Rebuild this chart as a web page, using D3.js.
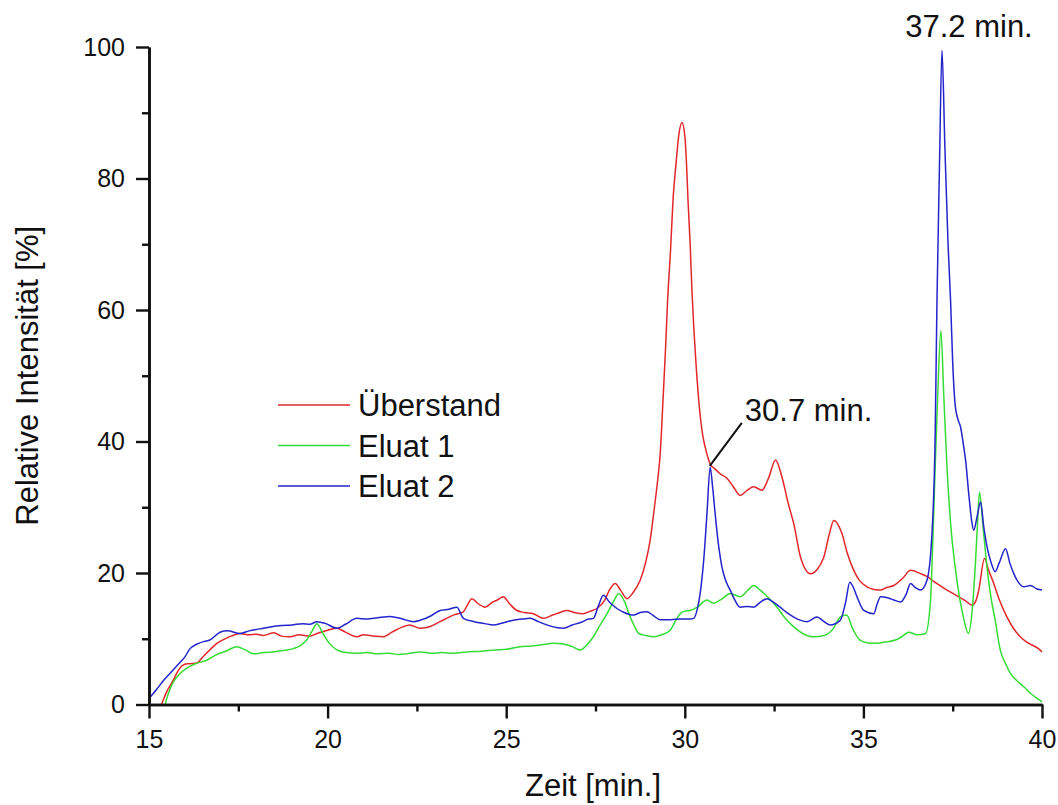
<!DOCTYPE html>
<html>
<head>
<meta charset="utf-8">
<script src="https://cdn.jsdelivr.net/npm/d3@7"></script>
<style>
  html, body { margin: 0; padding: 0; background: #fff; }
  svg { display: block; font-family: "Liberation Sans", Arial, sans-serif; }
</style>
</head>
<body>
<svg id="chart" width="1058" height="805"></svg>
<script>
// Chromatogram traces: [time (min), relative intensity (%)]
const ueberstand = [
  [15.35,0],[15.5,2.0],[15.68,3.7],[15.8,5.0],[15.95,6.0],[16.1,6.2],[16.34,6.3],[16.5,7.2],[16.7,8.3],[16.9,9.3],
  [17.1,9.9],[17.3,10.4],[17.55,10.8],[17.8,10.6],[18.0,10.7],[18.2,10.5],[18.5,10.9],[18.7,10.4],[18.95,10.3],[19.2,10.6],
  [19.5,10.4],[19.7,10.8],[20.0,11.3],[20.26,11.6],[20.5,11.0],[20.82,10.3],[21.0,10.6],[21.3,10.4],[21.55,10.3],[21.8,11.0],
  [22.1,11.8],[22.3,12.1],[22.59,11.6],[22.78,11.7],[23.15,12.6],[23.52,13.6],[23.8,14.1],[23.9,15.0],[24.04,16.1],[24.2,15.4],
  [24.41,14.8],[24.6,15.5],[24.75,15.9],[24.92,16.4],[25.1,15.3],[25.3,14.3],[25.5,14.0],[25.76,13.8],[26.04,13.1],[26.3,13.6],
  [26.5,14.0],[26.7,14.3],[26.9,14.0],[27.16,13.8],[27.35,14.2],[27.54,14.6],[27.75,15.8],[27.9,17.5],[28.05,18.4],[28.2,17.4],
  [28.38,16.1],[28.55,17.0],[28.75,18.9],[28.9,21.5],[29.03,25],[29.15,30],[29.25,34.6],[29.31,38],[29.39,46.3],[29.46,54],
  [29.52,61.6],[29.6,69],[29.67,76.7],[29.75,82],[29.83,86.5],[29.92,88.5],[30.0,86.5],[30.05,82],[30.09,76.7],[30.15,70],
  [30.2,63],[30.25,57.5],[30.3,53],[30.39,46.3],[30.45,43],[30.5,41],[30.6,38.5],[30.71,36.6],[30.85,35.8],[30.99,35.1],
  [31.18,34.4],[31.35,33.2],[31.55,31.8],[31.75,32.6],[31.93,33.1],[32.16,32.6],[32.35,34.5],[32.54,37.2],[32.72,34.6],[32.9,30.5],
  [33.05,27.5],[33.24,22.4],[33.52,19.9],[33.7,20.5],[33.89,22.4],[34.05,26],[34.17,28.0],[34.4,26.0],[34.55,23],[34.73,20.4],
  [34.9,18.8],[35.1,17.9],[35.3,17.5],[35.48,17.4],[35.65,17.8],[35.85,18.1],[36.1,19.2],[36.32,20.4],[36.6,19.9],[36.8,19.4],
  [37.0,18.6],[37.34,17.4],[37.6,16.6],[37.85,15.8],[38.04,15.1],[38.15,15.8],[38.23,17.4],[38.39,22.2],[38.5,20.5],[38.65,18.4],
  [38.8,16.0],[39.02,13.3],[39.2,11.6],[39.39,10.3],[39.6,9.4],[39.9,8.5],[40.0,8.0]
];

const eluat1 = [
  [15.45,0],[15.55,1.8],[15.68,3.4],[15.85,4.6],[16.05,5.5],[16.3,6.2],[16.6,6.7],[16.9,7.6],[17.15,8.1],[17.45,8.8],
  [17.7,8.3],[17.92,7.7],[18.2,7.9],[18.48,8.0],[18.75,8.2],[19.04,8.5],[19.25,9.0],[19.41,9.8],[19.55,11.0],[19.7,12.3],
  [19.87,10.8],[20.05,9.3],[20.26,8.3],[20.5,7.9],[20.82,7.8],[21.1,7.9],[21.4,7.7],[21.7,7.8],[22.0,7.6],[22.2,7.7],
  [22.59,8.0],[22.9,7.8],[23.2,7.9],[23.52,7.8],[23.9,8.0],[24.3,8.1],[24.7,8.3],[25.0,8.4],[25.39,8.8],[25.7,8.9],
  [26.0,9.1],[26.32,9.3],[26.6,9.2],[26.85,8.8],[27.07,8.3],[27.25,9.0],[27.44,10.3],[27.6,11.8],[27.82,13.8],[28.0,15.6],
  [28.15,16.9],[28.3,15.8],[28.45,13.6],[28.6,11.8],[28.71,10.8],[28.9,10.5],[29.13,10.3],[29.35,10.6],[29.59,11.3],[29.75,12.8],
  [29.87,13.8],[30.0,14.2],[30.15,14.3],[30.35,14.8],[30.62,15.9],[30.8,15.4],[31.05,16.1],[31.27,16.9],[31.55,16.4],[31.75,17.3],
  [31.93,18.1],[32.11,17.4],[32.35,16.2],[32.58,14.8],[32.8,13.2],[33.05,11.8],[33.3,10.8],[33.6,10.3],[33.9,10.5],[34.15,11.5],
  [34.35,13.3],[34.53,13.6],[34.7,11.5],[34.9,9.8],[35.1,9.4],[35.3,9.3],[35.6,9.5],[35.9,9.8],[36.1,10.4],[36.27,11.0],
  [36.5,10.6],[36.74,10.8],[36.88,15.9],[36.95,26],[37.01,36.1],[37.08,47],[37.17,56.9],[37.25,47],[37.34,36.1],[37.45,27],
  [37.57,20.9],[37.7,16],[37.8,13.3],[37.94,10.8],[38.04,14],[38.13,20.9],[38.2,28],[38.25,32.3],[38.35,27],[38.46,20.9],
  [38.58,16],[38.69,12.8],[38.83,8.3],[39.0,6.0],[39.12,4.7],[39.3,3.6],[39.49,2.7],[39.7,1.6],[39.9,0.8],[40.0,0.4]
];

const eluat2 = [
  [15.0,0.9],[15.2,2.2],[15.4,3.6],[15.6,4.8],[15.8,6.0],[16.0,7.2],[16.15,8.5],[16.35,9.2],[16.55,9.6],[16.7,9.8],
  [16.99,11.0],[17.2,11.2],[17.55,10.8],[17.8,11.2],[18.1,11.5],[18.4,11.8],[18.7,12.0],[19.0,12.1],[19.3,12.3],[19.5,12.2],
  [19.7,12.6],[19.95,12.3],[20.26,11.6],[20.5,12.2],[20.82,13.1],[21.1,13.0],[21.4,13.2],[21.75,13.4],[22.1,13.0],[22.4,12.6],
  [22.59,12.8],[22.9,13.5],[23.15,14.3],[23.4,14.5],[23.62,14.8],[23.8,13.1],[24.1,12.6],[24.4,12.3],[24.64,12.1],[24.9,12.4],
  [25.2,12.8],[25.45,13.0],[25.67,13.1],[25.9,12.6],[26.2,12.0],[26.4,11.7],[26.6,11.6],[26.85,12.1],[27.1,12.5],[27.3,13.0],
  [27.44,13.1],[27.58,15.0],[27.72,16.6],[27.9,15.5],[28.1,14.6],[28.3,14.0],[28.57,13.6],[28.75,14.0],[28.94,14.1],[29.1,13.6],
  [29.31,12.9],[29.6,12.9],[29.9,13.0],[30.15,13.0],[30.25,13.1],[30.35,14.5],[30.43,16.9],[30.53,22],[30.62,29.0],[30.71,36.1],
  [30.78,33],[30.85,29.0],[30.95,24],[31.04,20.9],[31.15,18.8],[31.27,17.4],[31.4,15.9],[31.55,14.8],[31.75,14.9],[31.93,14.8],
  [32.1,15.5],[32.3,16.1],[32.5,15.5],[32.67,14.8],[32.85,14.0],[33.05,13.3],[33.25,12.8],[33.42,12.6],[33.7,13.3],[33.9,12.6],
  [34.07,12.1],[34.35,12.8],[34.5,15.5],[34.62,18.6],[34.72,17.8],[34.82,16.4],[35.01,14.3],[35.29,13.8],[35.38,15.2],[35.48,16.4],
  [35.7,16.2],[35.85,15.9],[36.04,15.6],[36.2,16.8],[36.32,18.4],[36.45,17.8],[36.6,17.4],[36.78,18.9],[36.92,26],[37.01,41.2],
  [37.06,61.5],[37.13,82],[37.2,99.5],[37.28,85],[37.37,70],[37.44,61.5],[37.5,52],[37.57,45.5],[37.65,43.3],[37.72,42.2],
  [37.8,39.5],[37.86,37.2],[37.95,32],[38.03,28],[38.09,26.5],[38.18,28.5],[38.28,30.8],[38.37,27],[38.46,24],[38.58,21.5],
  [38.69,20.2],[38.8,21.5],[38.98,23.7],[39.1,21.5],[39.21,19.9],[39.35,18.5],[39.49,17.9],[39.68,18.1],[39.85,17.6],[40.0,17.4]
];

const seriesNames = ["Überstand", "Eluat 1", "Eluat 2"];
const seriesColors = ["#e3262a", "#35dc35", "#2424cc"];
const xMajorTicks = [15, 20, 25, 30, 35, 40];
const xMinorTicks = [17.5, 22.5, 27.5, 32.5, 37.5];
const yMajorTicks = [0, 20, 40, 60, 80, 100];
const yMinorTicks = [10, 30, 50, 70, 90];
const peakLabels = [
  { t: 30.7, v: 36.3, text: "30.7 min." },
  { t: 37.2, v: 99.5, text: "37.2 min." }
];

const svg = d3.select("#chart");
const margin = { left: 149, right: 16, top: 47, bottom: 100.5 };
const W = 1058, H = 805;

const x = d3.scaleLinear().domain([15, 40]).range([margin.left, W - margin.right]);
const y = d3.scaleLinear().domain([0, 100]).range([H - margin.bottom, margin.top]);

// traces
const line = d3.line().curve(d3.curveMonotoneX).x(d => x(d[0])).y(d => y(d[1]));
const allSeries = [ueberstand, eluat1, eluat2];
allSeries.forEach((s, i) => {
  svg.append("path")
    .datum(s)
    .attr("fill", "none")
    .attr("stroke", seriesColors[i])
    .attr("stroke-width", 1.5)
    .attr("stroke-linejoin", "round")
    .attr("d", line);
});

// axes
const axisFont = 25;
const xAxis = svg.append("g")
  .attr("transform", `translate(0,${y(0)})`)
  .call(d3.axisBottom(x).tickValues(xMajorTicks).tickSize(14).tickSizeOuter(0).tickPadding(12).tickFormat(d3.format("d")));
const xMinor = svg.append("g")
  .attr("transform", `translate(0,${y(0)})`)
  .call(d3.axisBottom(x).tickValues(xMinorTicks).tickSize(7).tickSizeOuter(0).tickFormat(""));
const yAxis = svg.append("g")
  .attr("transform", `translate(${x(15)},0)`)
  .call(d3.axisLeft(y).tickValues(yMajorTicks).tickSize(13).tickSizeOuter(0).tickPadding(11).tickFormat(d3.format("d")));
const yMinor = svg.append("g")
  .attr("transform", `translate(${x(15)},0)`)
  .call(d3.axisLeft(y).tickValues(yMinorTicks).tickSize(7).tickSizeOuter(0).tickFormat(""));

[xAxis, xMinor, yAxis, yMinor].forEach(g => {
  g.selectAll("path.domain").attr("stroke", "#111").attr("stroke-width", 2.6);
  g.selectAll(".tick line").attr("stroke", "#111").attr("stroke-width", 2.4);
  g.selectAll(".tick text")
    .attr("fill", "#111")
    .style("font-family", "'Liberation Sans', Arial, sans-serif")
    .style("font-size", axisFont + "px");
});

// axis titles
svg.append("text")
  .attr("x", 593).attr("y", 796)
  .attr("text-anchor", "middle")
  .attr("fill", "#111")
  .style("font-size", "31px")
  .text("Zeit [min.]");

svg.append("text")
  .attr("transform", `translate(38,${(y(0) + y(100)) / 2}) rotate(-90)`)
  .attr("text-anchor", "middle")
  .attr("fill", "#111")
  .style("font-size", "31px")
  .text("Relative Intensität [%]");

// legend
const legend = svg.append("g").attr("transform", "translate(278,405)");
seriesNames.forEach((name, i) => {
  const row = legend.append("g").attr("transform", `translate(0,${i * 40.5})`);
  row.append("line")
    .attr("x1", 0).attr("x2", 72).attr("y1", 0).attr("y2", 0)
    .attr("stroke", seriesColors[i]).attr("stroke-width", 1.5);
  row.append("text")
    .attr("x", 80).attr("y", 11)
    .attr("fill", "#111")
    .style("font-size", "31px")
    .text(name);
});

// peak annotations
const p1 = peakLabels[0];
svg.append("line")
  .attr("x1", x(p1.t)).attr("y1", y(p1.v))
  .attr("x2", x(p1.t) + 32).attr("y2", y(p1.v) - 43)
  .attr("stroke", "#111").attr("stroke-width", 2);
svg.append("text")
  .attr("x", x(p1.t) + 35).attr("y", y(p1.v) - 45)
  .attr("fill", "#111")
  .style("font-size", "31px")
  .text(p1.text);

const p2 = peakLabels[1];
svg.append("text")
  .attr("x", x(p2.t) + 27).attr("y", 37)
  .attr("text-anchor", "middle")
  .attr("fill", "#111")
  .style("font-size", "31px")
  .text(p2.text);
</script>
</body>
</html>
